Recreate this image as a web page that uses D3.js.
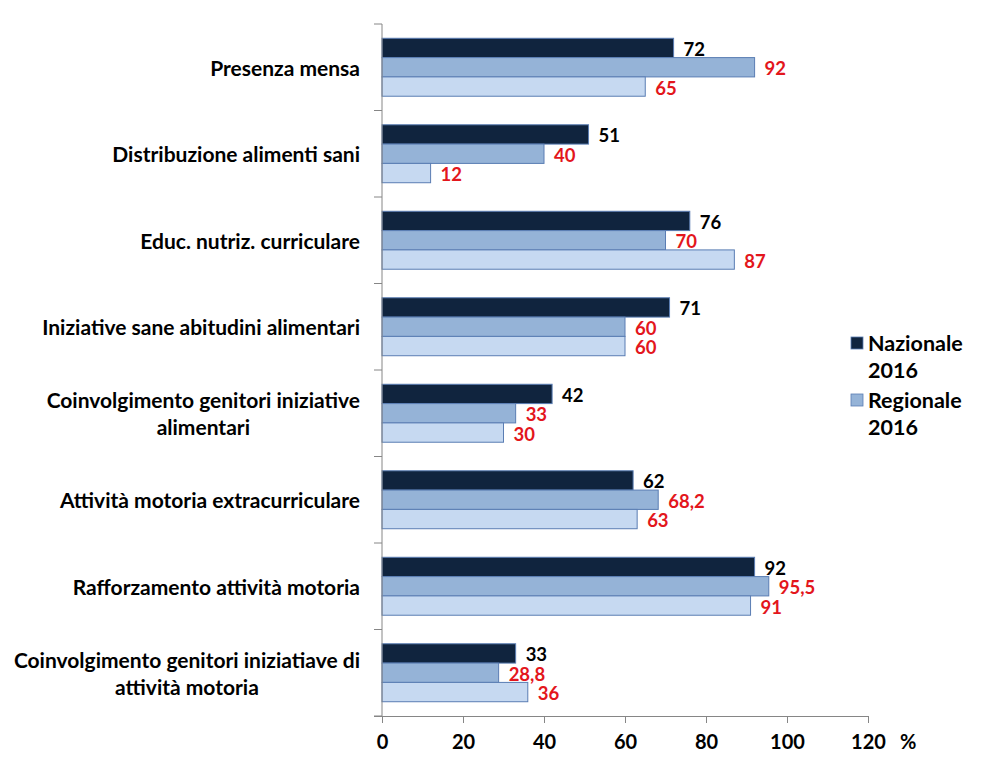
<!DOCTYPE html>
<html>
<head>
<meta charset="utf-8">
<script src="https://cdn.jsdelivr.net/npm/d3@7"></script>
<style>
  html, body { margin: 0; padding: 0; background: #fff; }
  svg { display: block; font-family: Lato, "Open Sans", sans-serif; font-weight: bold; }
</style>
</head>
<body>
<svg id="chart" width="994" height="771"></svg>
<script>
// ---- data ----
const categories = [
  "Presenza mensa",
  "Distribuzione alimenti sani",
  "Educ. nutriz. curriculare",
  "Iniziative sane abitudini alimentari",
  "Coinvolgimento genitori iniziative\nalimentari",
  "Attività motoria extracurriculare",
  "Rafforzamento attività motoria",
  "Coinvolgimento genitori iniziatiave di\nattività motoria"
];
const seriesNames = ["Nazionale 2016", "Regionale 2016", "Locale 2016"];
const nazionale = [72, 51, 76, 71, 42, 62, 92, 33];
const regionale = [92, 40, 70, 60, 33, 68.2, 95.5, 28.8];
const locale    = [65, 12, 87, 60, 30, 63, 91, 36];
const xTicks = [0, 20, 40, 60, 80, 100, 120];
const legendNames = ["Nazionale 2016", "Regionale 2016"];

// ---- styling ----
const fills = ["#10243e", "#95b3d7", "#c6d9f1"];
const labelColors = ["#000000", "#e3161c", "#e3161c"];
const catFont = 21;
const valFont = 18.5;
const tickFont = 20;
const legendFont = 21.5;

const svg = d3.select("#chart");
const values = [nazionale, regionale, locale];

const x = d3.scaleLinear().domain([0, 120]).range([382, 868]);
const y = d3.scaleBand().domain(categories).range([24, 716]).paddingInner(0.33).paddingOuter(0.165);
const ySub = d3.scaleBand().domain(seriesNames).range([0, y.bandwidth()]);
const step = y.step();

// bars
const groups = svg.append("g").selectAll("g")
  .data(categories)
  .join("g")
  .attr("transform", d => `translate(0,${y(d)})`);

groups.each(function(cat, i) {
  const g = d3.select(this);
  seriesNames.forEach((s, j) => {
    const v = values[j][i];
    g.append("rect")
      .attr("x", x(0))
      .attr("y", ySub(s))
      .attr("width", x(v) - x(0))
      .attr("height", ySub.bandwidth())
      .attr("fill", fills[j])
      .attr("stroke", "#5a7db3")
      .attr("stroke-width", 1);
    g.append("text")
      .attr("x", x(v) + 10)
      .attr("y", ySub(s) + ySub.bandwidth() / 2 + 1)
      .attr("dominant-baseline", "central")
      .attr("font-size", valFont)
      .attr("fill", labelColors[j])
      .text(String(v).replace(".", ","));
  });
});

// y axis line and boundary ticks
const axisColor = "#868686";
svg.append("line")
  .attr("x1", x(0)).attr("x2", x(0))
  .attr("y1", y.range()[0]).attr("y2", y.range()[1])
  .attr("stroke", axisColor).attr("stroke-width", 1);
d3.range(categories.length + 1).forEach(k => {
  const yy = y.range()[0] + k * step;
  svg.append("line")
    .attr("x1", x(0) - 8).attr("x2", x(0))
    .attr("y1", yy).attr("y2", yy)
    .attr("stroke", axisColor).attr("stroke-width", 1);
});

// category labels
const labelRight = 360;
const lineH = 27;
categories.forEach(cat => {
  const lines = cat.split("\n");
  const cy = y(cat) + y.bandwidth() / 2;
  const t = svg.append("text")
    .attr("font-size", catFont)
    .attr("fill", "#000");
  const tspans = lines.map((ln, k) => t.append("tspan")
    .attr("y", cy + (k - (lines.length - 1) / 2) * lineH)
    .attr("dominant-baseline", "central")
    .text(ln));
  if (lines.length === 1) {
    tspans[0].attr("x", labelRight).attr("text-anchor", "end");
  } else {
    const w = d3.max(tspans, ts => ts.node().getComputedTextLength());
    const cx = labelRight - w / 2;
    tspans.forEach(ts => ts.attr("x", cx).attr("text-anchor", "middle"));
  }
});

// x axis
const xAxis = svg.append("g")
  .attr("transform", `translate(0,${y.range()[1]})`)
  .call(d3.axisBottom(x).tickValues(xTicks).tickSize(7).tickSizeOuter(0).tickPadding(12));
xAxis.select(".domain").attr("stroke", axisColor).attr("d", `M${x(0) - 8},0.5H${x(120)}`);
xAxis.selectAll(".tick line").attr("stroke", axisColor);
xAxis.selectAll(".tick text")
  .attr("font-size", tickFont)
  .attr("font-family", "Lato, sans-serif")
  .attr("font-weight", "bold")
  .attr("fill", "#000");

svg.append("text")
  .attr("x", 900).attr("y", 741)
  .attr("dominant-baseline", "central")
  .attr("font-size", tickFont)
  .attr("fill", "#000")
  .text("%");

// legend
const legend = svg.append("g");
legendNames.forEach((name, j) => {
  const top = 337 + j * 57;
  legend.append("rect")
    .attr("x", 851).attr("y", top)
    .attr("width", 12).attr("height", 12)
    .attr("fill", fills[j])
    .attr("stroke", "#5a7db3").attr("stroke-width", 0.8);
  const parts = name.split(" ");
  parts.forEach((p, k) => {
    legend.append("text")
      .attr("x", 868).attr("y", top + 6 + k * 27)
      .attr("dominant-baseline", "central")
      .attr("font-size", legendFont)
      .attr("fill", "#000")
      .text(p);
  });
});
</script>
</body>
</html>
